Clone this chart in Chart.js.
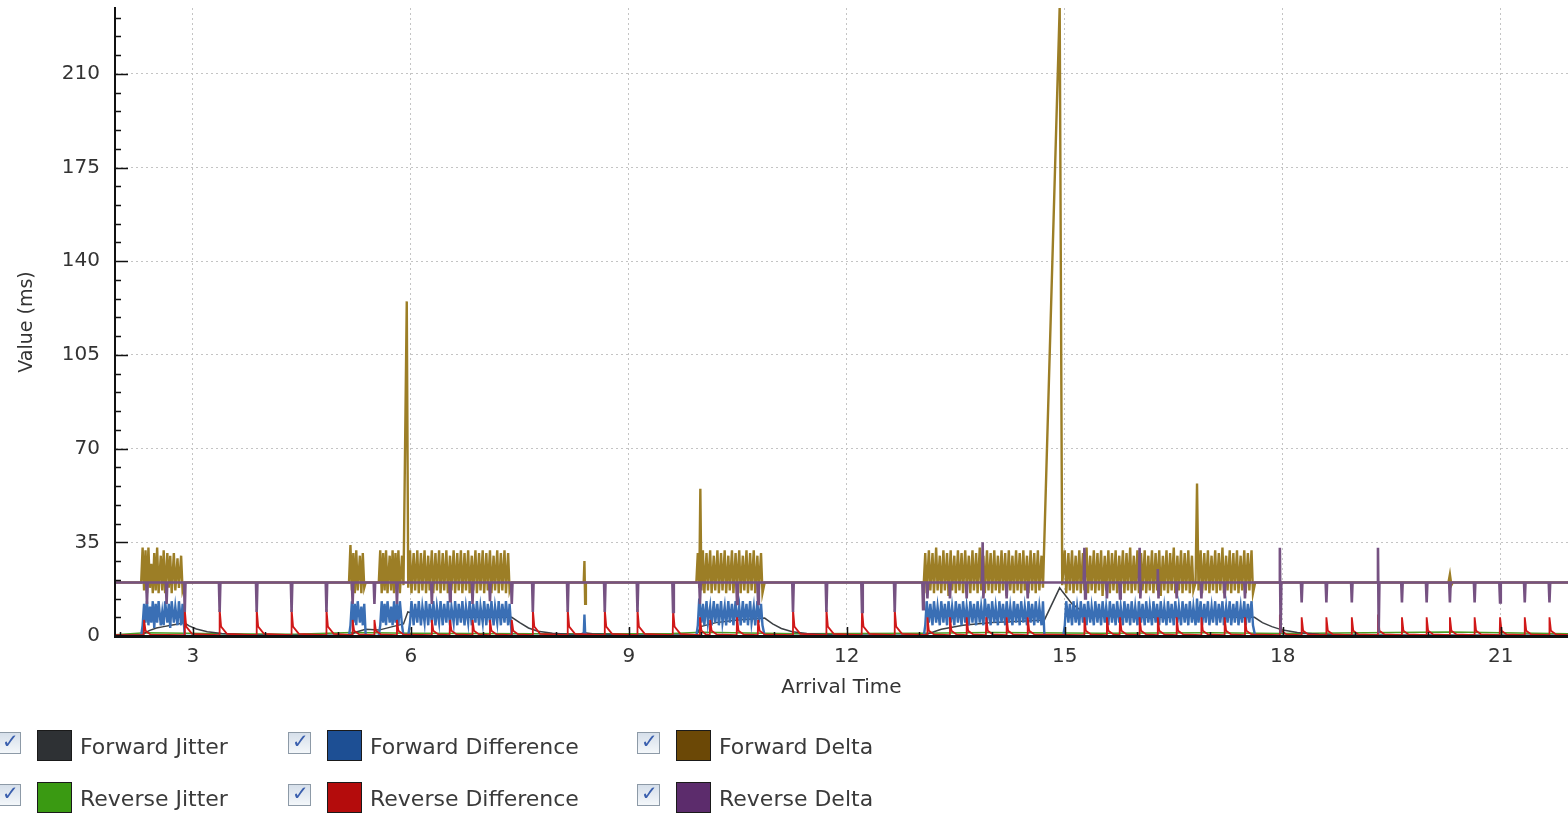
<!DOCTYPE html>
<html>
<head>
<meta charset="utf-8">
<script src="https://cdn.jsdelivr.net/npm/chart.js@4.4.1/dist/chart.umd.min.js"></script>
<style>
  body { margin: 0; background: #fff; overflow: hidden; font-family: "DejaVu Sans", sans-serif; }
  #wrap { position: relative; width: 1568px; height: 814px; }
  canvas { position: absolute; left: 0; top: 0; }
  .cb { position: absolute; width: 23px; height: 22px; border: 1px solid #8d9aa7; box-sizing: border-box;
        background: linear-gradient(#d6dfea, #f4f7fa); }
  .cb::after { content: "\2713"; position: absolute; left: 3px; top: -4px; font-size: 20px; font-weight: bold; color: #3a5fae; }
  .sw { position: absolute; width: 35px; height: 31px; border: 1px solid #1a1a1a; box-sizing: border-box; }
  .lb { position: absolute; font-size: 22px; line-height: 30px; color: #3a3a3a; white-space: nowrap; }
</style>
</head>
<body>
<div id="wrap">
  <canvas id="grafico" width="1568" height="814"></canvas>
  <div id="leyenda"></div>
</div>
<script>
// Series names / colors (legend order)
const seriesNames = ["Forward Jitter", "Forward Difference", "Forward Delta",
                     "Reverse Jitter", "Reverse Difference", "Reverse Delta"];
const swatchColors = ["#2e3134", "#1d4f94", "#6b4806", "#3a9a12", "#b40c0c", "#5c2c6c"];
const lineColors = ["#3c4044", "#3a6fb5", "#9c7e26", "#4a9e24", "#d01818", "#765282"];

// Tick values
const xTicks = [2,3,4,5,6,7,8,9,10,11,12,13,14,15,16,17,18,19,20,21];
const yTicks = [0,7,14,21,28,35,42,49,56,63,70,77,84,91,98,105,112,119,126,133,140,147,154,161,168,175,182,189,196,203,210,217,224,231];

// [arrival time (s), value (ms)]
const fwdDelta = [
  [1.93,20],[2.29,20],[2.31,33],[2.33,17],[2.35,32],[2.37,16],[2.39,33],[2.41,18],[2.43,27],[2.45,16],[2.47,31],[2.49,17],[2.51,33],[2.53,16],[2.56,30],[2.58,17],[2.60,32],[2.62,16],[2.65,31],[2.67,18],[2.69,30],[2.71,16],[2.74,31],[2.76,17],[2.79,29],[2.81,18],[2.84,30],[2.86,17],[2.89,20],
  [5.15,20],[5.17,34],[5.19,17],[5.21,31],[5.23,16],[5.25,32],[5.27,17],[5.30,30],[5.32,16],[5.34,31],[5.36,18],[5.38,20],
  [5.56,20],[5.58,32],[5.60,16],[5.62,31],[5.64,17],[5.66,32],[5.68,16],[5.71,30],[5.73,17],[5.75,32],[5.77,16],[5.79,31],[5.81,17],[5.83,32],[5.85,16],[5.88,30],[5.90,19],[5.945,125],[5.965,18],
  [5.99,32],[6.01,16],[6.04,31],[6.06,17],[6.09,32],[6.11,16],[6.14,31],[6.16,17],[6.19,32],[6.21,16],[6.24,30],[6.26,17],[6.29,32],[6.31,16],[6.34,31],[6.36,17],[6.39,32],[6.41,16],[6.44,31],[6.46,17],[6.49,32],[6.51,16],[6.54,30],[6.56,17],[6.59,32],[6.61,16],[6.64,31],[6.66,17],[6.69,32],[6.71,16],[6.74,31],[6.76,17],[6.79,32],[6.81,16],[6.84,30],[6.86,17],[6.89,32],[6.91,16],[6.94,31],[6.96,17],[6.99,32],[7.01,16],[7.04,31],[7.06,17],[7.09,32],[7.11,16],[7.14,30],[7.16,17],[7.19,32],[7.21,16],[7.24,31],[7.26,17],[7.29,32],[7.31,16],[7.34,31],[7.36,17],[7.39,20],
  [8.38,20],[8.39,28],[8.40,12],[8.41,20],
  [9.93,20],[9.95,31],[9.97,18],[9.985,55],[10.00,17],[10.02,32],[10.04,16],[10.07,31],[10.09,17],[10.12,32],[10.14,16],[10.17,30],[10.19,17],[10.22,32],[10.24,16],[10.27,31],[10.29,17],[10.32,32],[10.34,16],[10.37,30],[10.39,17],[10.42,32],[10.44,16],[10.47,31],[10.49,17],[10.52,32],[10.54,16],[10.57,30],[10.59,17],[10.62,32],[10.64,16],[10.67,31],[10.69,17],[10.72,32],[10.74,16],[10.77,30],[10.79,17],[10.82,31],[10.84,16],[10.87,20],
  [13.06,20],[13.08,31],[13.10,16],[13.13,32],[13.15,17],[13.18,31],[13.20,16],[13.23,33],[13.25,17],[13.28,30],[13.30,16],[13.33,32],[13.35,17],[13.38,31],[13.40,15],[13.43,32],[13.45,17],[13.48,30],[13.50,16],[13.53,32],[13.55,17],[13.58,31],[13.60,16],[13.63,32],[13.65,18],[13.68,30],[13.70,16],[13.73,32],[13.75,17],[13.78,31],[13.80,16],[13.83,33],[13.85,17],[13.88,30],[13.90,16],[13.93,32],[13.95,17],[13.98,31],[14.00,16],[14.03,32],[14.05,17],[14.08,30],[14.10,16],[14.13,32],[14.15,17],[14.18,31],[14.20,15],[14.23,32],[14.25,17],[14.28,30],[14.30,16],[14.33,32],[14.35,17],[14.38,31],[14.40,16],[14.43,32],[14.45,17],[14.48,30],[14.50,16],[14.53,32],[14.55,17],[14.58,31],[14.60,16],[14.63,32],[14.65,17],[14.68,30],[14.70,18],[14.93,235],[14.965,19],
  [15.00,32],[15.02,16],[15.05,31],[15.07,17],[15.10,32],[15.12,16],[15.15,30],[15.17,17],[15.20,32],[15.22,16],[15.25,31],[15.27,17],[15.30,33],[15.32,16],[15.35,30],[15.37,17],[15.40,32],[15.42,16],[15.45,31],[15.47,17],[15.50,32],[15.52,15],[15.55,30],[15.57,17],[15.60,32],[15.62,16],[15.65,31],[15.67,17],[15.70,32],[15.72,16],[15.75,30],[15.77,17],[15.80,32],[15.82,16],[15.85,31],[15.87,17],[15.90,33],[15.92,16],[15.95,30],[15.97,17],[16.00,32],[16.02,16],[16.05,31],[16.07,17],[16.10,32],[16.12,16],[16.15,30],[16.17,17],[16.20,32],[16.22,16],[16.25,31],[16.27,17],[16.30,32],[16.32,15],[16.35,30],[16.37,17],[16.40,32],[16.42,16],[16.45,31],[16.47,17],[16.50,33],[16.52,16],[16.55,30],[16.57,17],[16.60,32],[16.62,16],[16.65,31],[16.67,17],[16.70,32],[16.72,16],[16.75,30],[16.77,17],[16.80,20],[16.82,57],[16.84,17],[16.87,32],[16.89,16],[16.92,31],[16.94,17],[16.97,32],[16.99,16],[17.02,30],[17.04,17],[17.07,32],[17.09,16],[17.12,31],[17.14,17],[17.17,33],[17.19,16],[17.22,30],[17.24,17],[17.27,32],[17.29,16],[17.32,31],[17.34,17],[17.37,32],[17.39,16],[17.42,30],[17.44,17],[17.47,32],[17.49,16],[17.52,31],[17.54,17],[17.57,32],[17.59,16],[17.62,20],
  [20.28,20],[20.30,23],[20.32,19],[20.34,20],[21.95,20]
];

const fwdDiff = [
  [1.93,0],[2.29,0],[2.31,4],[2.33,12],[2.35,5],[2.37,13],[2.39,4],[2.41,11],[2.43,5],[2.45,13],[2.47,3],[2.49,12],[2.51,5],[2.53,13],[2.56,4],[2.58,9],[2.60,4],[2.62,13],[2.65,5],[2.67,12],[2.69,3],[2.71,13],[2.74,5],[2.76,11],[2.79,4],[2.81,13],[2.84,4],[2.86,12],[2.89,0],
  [5.15,0],[5.17,4],[5.19,13],[5.21,5],[5.23,12],[5.25,4],[5.27,13],[5.30,5],[5.32,11],[5.34,4],[5.36,12],[5.38,0],
  [5.56,0],[5.58,4],[5.60,13],[5.62,5],[5.64,12],[5.66,4],[5.68,13],[5.71,5],[5.73,11],[5.75,4],[5.77,13],[5.79,5],[5.81,12],[5.83,4],[5.85,13],[5.88,4],[5.90,0],[5.965,0],
  [5.99,5],[6.01,13],[6.04,4],[6.06,12],[6.09,5],[6.11,13],[6.14,4],[6.16,11],[6.19,5],[6.21,13],[6.24,4],[6.26,12],[6.29,5],[6.31,13],[6.34,4],[6.36,11],[6.39,5],[6.41,13],[6.44,4],[6.46,12],[6.49,5],[6.51,13],[6.54,4],[6.56,11],[6.59,5],[6.61,13],[6.64,4],[6.66,12],[6.69,5],[6.71,13],[6.74,4],[6.76,11],[6.79,5],[6.81,13],[6.84,4],[6.86,12],[6.89,5],[6.91,13],[6.94,4],[6.96,11],[6.99,5],[7.01,13],[7.04,4],[7.06,12],[7.09,5],[7.11,13],[7.14,4],[7.16,11],[7.19,5],[7.21,13],[7.24,4],[7.26,12],[7.29,5],[7.31,13],[7.34,4],[7.36,12],[7.39,0],
  [8.38,0],[8.39,8],[8.40,1],[8.41,0],
  [9.93,0],[9.95,4],[9.97,14],[10.00,5],[10.02,12],[10.04,4],[10.07,13],[10.09,5],[10.12,11],[10.14,4],[10.17,13],[10.19,5],[10.22,12],[10.24,4],[10.27,13],[10.29,5],[10.32,11],[10.34,4],[10.37,13],[10.39,5],[10.42,12],[10.44,4],[10.47,13],[10.49,5],[10.52,11],[10.54,4],[10.57,13],[10.59,5],[10.62,12],[10.64,4],[10.67,13],[10.69,5],[10.72,11],[10.74,4],[10.77,13],[10.79,5],[10.82,12],[10.84,4],[10.87,0],
  [13.06,0],[13.08,4],[13.10,13],[13.13,5],[13.15,12],[13.18,4],[13.20,13],[13.23,5],[13.25,11],[13.28,4],[13.30,13],[13.33,5],[13.35,12],[13.38,4],[13.40,13],[13.43,5],[13.45,11],[13.48,4],[13.50,13],[13.53,5],[13.55,12],[13.58,4],[13.60,13],[13.63,5],[13.65,11],[13.68,4],[13.70,13],[13.73,5],[13.75,12],[13.78,4],[13.80,13],[13.83,5],[13.85,11],[13.88,4],[13.90,14],[13.93,5],[13.95,12],[13.98,4],[14.00,13],[14.03,5],[14.05,11],[14.08,4],[14.10,13],[14.13,5],[14.15,12],[14.18,4],[14.20,13],[14.23,5],[14.25,11],[14.28,4],[14.30,13],[14.33,5],[14.35,12],[14.38,4],[14.40,13],[14.43,5],[14.45,11],[14.48,4],[14.50,13],[14.53,5],[14.55,12],[14.58,4],[14.60,13],[14.63,5],[14.65,11],[14.68,4],[14.70,13],[14.72,0],
  [14.98,0],[15.00,4],[15.02,13],[15.05,5],[15.07,12],[15.10,4],[15.12,13],[15.15,5],[15.17,11],[15.20,4],[15.22,13],[15.25,5],[15.27,12],[15.30,4],[15.32,13],[15.35,5],[15.37,11],[15.40,4],[15.42,13],[15.45,5],[15.47,12],[15.50,4],[15.52,13],[15.55,5],[15.57,11],[15.60,4],[15.62,13],[15.65,5],[15.67,12],[15.70,4],[15.72,13],[15.75,5],[15.77,11],[15.80,4],[15.82,13],[15.85,5],[15.87,12],[15.90,4],[15.92,13],[15.95,5],[15.97,11],[16.00,4],[16.02,13],[16.05,5],[16.07,12],[16.10,4],[16.12,13],[16.15,5],[16.17,11],[16.20,4],[16.22,13],[16.25,5],[16.27,12],[16.30,4],[16.32,13],[16.35,5],[16.37,11],[16.40,4],[16.42,13],[16.45,5],[16.47,12],[16.50,4],[16.52,13],[16.55,5],[16.57,11],[16.60,4],[16.62,13],[16.65,5],[16.67,12],[16.70,4],[16.72,13],[16.75,5],[16.77,11],[16.80,4],[16.82,14],[16.84,5],[16.87,13],[16.89,4],[16.92,12],[16.94,5],[16.97,13],[16.99,4],[17.02,11],[17.04,5],[17.07,13],[17.09,4],[17.12,12],[17.14,5],[17.17,13],[17.19,4],[17.22,11],[17.24,5],[17.27,13],[17.29,4],[17.32,12],[17.34,5],[17.37,13],[17.39,4],[17.42,11],[17.44,5],[17.47,13],[17.49,4],[17.52,12],[17.54,5],[17.57,13],[17.59,4],[17.62,0],[21.95,0]
];

const fwdJitter = [
  [1.93,0.3],[2.30,0.5],[2.40,2],[2.50,3],[2.60,3.5],[2.70,4],[2.80,4.5],[2.88,5],[2.95,3.8],[3.05,2.6],[3.20,1.6],[3.40,0.9],[3.70,0.5],[4.20,0.3],
  [5.15,0.3],[5.25,1.5],[5.38,2.5],[5.56,2.2],[5.75,3.5],[5.90,4.5],[5.96,9],[6.10,8],[6.40,7.5],[6.80,7],[7.10,7],[7.39,7],[7.50,5],[7.62,3],[7.75,1.8],[7.95,1],[8.30,0.5],[8.39,1.2],[8.50,0.8],[9.00,0.4],
  [9.93,0.4],[9.99,3.5],[10.20,5],[10.50,6],[10.87,6.7],[10.98,4.5],[11.10,2.8],[11.25,1.6],[11.45,0.9],[11.80,0.5],[12.40,0.3],
  [13.06,0.3],[13.30,2.5],[13.60,4],[14.00,5],[14.40,5.5],[14.72,6],[14.93,18],[14.97,16.5],[15.10,12],[15.25,9],[15.50,7.5],[16.00,7],[16.50,7],[16.82,9],[17.00,8],[17.30,7],[17.61,7],
  [17.72,5],[17.85,3.5],[18.00,2.2],[18.20,1.3],[18.50,0.7],[19.00,0.4],[21.95,0.3]
];

const revJitter = [
  [1.93,0.5],[2.35,1.2],[2.90,1],[3.40,0.8],[4.40,0.7],[5.20,1.3],[6.00,1],[7.70,0.8],[9.60,0.9],[10.00,1.4],
  [11.30,0.8],[13.00,1],[14.00,1.3],[15.50,1],[17.00,1.2],[18.00,0.9],[20.30,1.5],[21.95,0.8]
];

const revDiff = [
  [1.93,0.3],
  [2.325,0.3],[2.33,6],[2.35,2],[2.42,0.5],
  [2.885,0.3],[2.89,10],[2.91,3.5],[2.99,0.8],
  [3.365,0.3],[3.37,10],[3.39,3.5],[3.47,0.8],
  [3.875,0.3],[3.88,10],[3.90,3.5],[3.98,0.8],
  [4.355,0.3],[4.36,10],[4.38,3.5],[4.46,0.8],
  [4.835,0.3],[4.84,10],[4.86,3.5],[4.94,0.8],
  [5.195,0.3],[5.20,6],[5.22,2],[5.29,0.6],
  [5.495,0.3],[5.50,6],[5.52,2],[5.59,0.6],
  [5.805,0.3],[5.81,6],[5.83,2],[5.90,0.6],
  [6.285,0.3],[6.29,6],[6.31,2],[6.38,0.6],
  [6.535,0.3],[6.54,6],[6.56,2],[6.63,0.6],
  [6.845,0.3],[6.85,6],[6.87,2],[6.94,0.6],
  [7.085,0.3],[7.09,6],[7.11,2],[7.18,0.6],
  [7.385,0.3],[7.39,6],[7.41,2],[7.48,0.6],
  [7.675,0.3],[7.68,10],[7.70,3.5],[7.78,0.8],
  [8.155,0.3],[8.16,10],[8.18,3.5],[8.26,0.8],
  [8.665,0.3],[8.67,10],[8.69,3.5],[8.77,0.8],
  [9.115,0.3],[9.12,10],[9.14,3.5],[9.22,0.8],
  [9.605,0.3],[9.61,10],[9.63,3.5],[9.71,0.8],
  [9.975,0.3],[9.98,7],[10.00,2],[10.06,0.6],
  [10.115,0.3],[10.12,6],[10.14,2],[10.21,0.6],
  [10.485,0.3],[10.49,7],[10.51,2],[10.58,0.6],
  [10.775,0.3],[10.78,6],[10.80,2],[10.87,0.6],
  [11.255,0.3],[11.26,10],[11.28,3.5],[11.36,0.8],
  [11.715,0.3],[11.72,10],[11.74,3.5],[11.82,0.8],
  [12.205,0.3],[12.21,10],[12.23,3.5],[12.31,0.8],
  [12.655,0.3],[12.66,10],[12.68,3.5],[12.76,0.8],
  [13.105,0.3],[13.11,7],[13.13,2],[13.20,0.6],
  [13.415,0.3],[13.42,7],[13.44,2],[13.51,0.6],
  [13.645,0.3],[13.65,7],[13.67,2],[13.74,0.6],
  [13.915,0.3],[13.92,7],[13.94,2],[14.01,0.6],
  [14.195,0.3],[14.20,7],[14.22,2],[14.29,0.6],
  [14.485,0.3],[14.49,7],[14.51,2],[14.58,0.6],
  [15.265,0.3],[15.27,7],[15.29,2],[15.36,0.6],
  [15.575,0.3],[15.58,7],[15.60,2],[15.67,0.6],
  [15.755,0.3],[15.76,7],[15.78,2],[15.85,0.6],
  [16.025,0.3],[16.03,7],[16.05,2],[16.12,0.6],
  [16.275,0.3],[16.28,7],[16.30,2],[16.37,0.6],
  [16.535,0.3],[16.54,7],[16.56,2],[16.63,0.6],
  [16.875,0.3],[16.88,7],[16.90,2],[16.97,0.6],
  [17.195,0.3],[17.20,7],[17.22,2],[17.29,0.6],
  [17.475,0.3],[17.48,7],[17.50,2],[17.57,0.6],
  [17.955,0.3],[17.96,8],[17.98,2],[18.05,0.6],
  [18.255,0.3],[18.26,7],[18.28,2],[18.35,0.6],
  [18.595,0.3],[18.60,7],[18.62,2],[18.69,0.6],
  [18.945,0.3],[18.95,7],[18.97,2],[19.04,0.6],
  [19.305,0.3],[19.31,8],[19.33,2],[19.40,0.6],
  [19.635,0.3],[19.64,7],[19.66,2],[19.73,0.6],
  [19.975,0.3],[19.98,7],[20.00,2],[20.07,0.6],
  [20.295,0.3],[20.30,7],[20.32,2],[20.39,0.6],
  [20.635,0.3],[20.64,7],[20.66,2],[20.73,0.6],
  [20.985,0.3],[20.99,7],[21.01,2],[21.08,0.6],
  [21.325,0.3],[21.33,7],[21.35,2],[21.42,0.6],
  [21.665,0.3],[21.67,7],[21.69,2],[21.76,0.6],
  [21.95,0.3]
];

const revDelta = [
  [1.93,20],
  [2.36,20],[2.37,12],[2.38,20],
  [2.63,20],[2.64,12],[2.65,20],
  [2.88,20],[2.89,9],[2.90,20],
  [3.36,20],[3.37,9],[3.38,20],
  [3.87,20],[3.88,9],[3.89,20],
  [4.35,20],[4.36,9],[4.37,20],
  [4.83,20],[4.84,9],[4.85,20],
  [5.19,20],[5.20,12],[5.21,20],
  [5.49,20],[5.50,12],[5.51,20],
  [5.80,20],[5.81,12],[5.82,20],
  [6.28,20],[6.29,12],[6.30,20],
  [6.53,20],[6.54,13],[6.55,20],
  [6.84,20],[6.85,12],[6.86,20],
  [7.08,20],[7.09,13],[7.10,20],
  [7.38,20],[7.39,12],[7.40,20],
  [7.67,20],[7.68,9],[7.69,20],
  [8.15,20],[8.16,9],[8.17,20],
  [8.66,20],[8.67,9],[8.68,20],
  [9.11,20],[9.12,9],[9.13,20],
  [9.60,20],[9.61,9],[9.62,20],
  [9.97,20],[9.98,12],[9.99,20],
  [10.48,20],[10.49,12],[10.50,20],
  [10.77,20],[10.78,12],[10.79,20],
  [11.25,20],[11.26,9],[11.27,20],
  [11.71,20],[11.72,9],[11.73,20],
  [12.20,20],[12.21,9],[12.22,20],
  [12.65,20],[12.66,9],[12.67,20],
  [13.04,20],[13.05,10],[13.06,20],
  [13.10,20],[13.11,14],[13.12,20],
  [13.41,20],[13.42,14],[13.43,20],
  [13.64,20],[13.65,14],[13.66,20],
  [13.86,20],[13.87,35],[13.88,14],[13.89,20],
  [14.19,20],[14.20,14],[14.21,20],
  [14.48,20],[14.49,14],[14.50,20],
  [15.26,20],[15.27,33],[15.28,14],[15.29,20],
  [15.57,20],[15.58,14],[15.59,20],
  [15.75,20],[15.76,14],[15.77,20],
  [16.02,20],[16.03,33],[16.04,14],[16.05,20],
  [16.27,20],[16.28,25],[16.29,14],[16.30,20],
  [16.53,20],[16.54,14],[16.55,20],
  [16.87,20],[16.88,14],[16.89,20],
  [17.19,20],[17.20,14],[17.21,20],
  [17.47,20],[17.48,14],[17.49,20],
  [17.95,20],[17.96,33],[17.97,1],[17.98,20],
  [18.25,20],[18.26,12.5],[18.27,20],
  [18.59,20],[18.60,12.5],[18.61,20],
  [18.94,20],[18.95,12.5],[18.96,20],
  [19.30,20],[19.31,33],[19.32,1],[19.33,20],
  [19.63,20],[19.64,12.5],[19.65,20],
  [19.97,20],[19.98,12.5],[19.99,20],
  [20.29,20],[20.30,12.5],[20.31,20],
  [20.63,20],[20.64,12.5],[20.65,20],
  [20.98,20],[20.99,12.5],[21.00,20],
  [21.32,20],[21.33,12.5],[21.34,20],
  [21.66,20],[21.67,12.5],[21.68,20],
  [21.95,20]
];

function puntos(serie) {
  return serie.map(p => ({x: p[0], y: p[1]}));
}

// legend
const leyenda = document.getElementById("leyenda");
const colCb = [-2, 288, 637];
const rowTop = [731, 783];
seriesNames.forEach((nombre, i) => {
  const c = i % 3, r = Math.floor(i / 3);
  const cb = document.createElement("div");
  cb.className = "cb";
  cb.style.left = colCb[c] + "px";
  cb.style.top = (rowTop[r] + 1) + "px";
  const sw = document.createElement("div");
  sw.className = "sw";
  sw.style.left = (colCb[c] + 39) + "px";
  sw.style.top = (rowTop[r] - 1) + "px";
  sw.style.background = swatchColors[i];
  const lb = document.createElement("div");
  lb.className = "lb";
  lb.style.left = (colCb[c] + 82) + "px";
  lb.style.top = (rowTop[r] + 1) + "px";
  lb.textContent = nombre;
  leyenda.appendChild(cb);
  leyenda.appendChild(sw);
  leyenda.appendChild(lb);
});

// tick marks drawn inside the plot
const marcas = {
  id: "marcas",
  afterDatasetsDraw(chart) {
    const {ctx, chartArea, scales} = chart;
    ctx.save();
    ctx.strokeStyle = "#111";
    ctx.lineWidth = 1.5;
    ctx.beginPath();
    scales.y.ticks.forEach(t => {
      const py = Math.round(scales.y.getPixelForValue(t.value)) + 0.5;
      const len = t.value % 35 === 0 ? 13 : 6;
      ctx.moveTo(chartArea.left, py);
      ctx.lineTo(chartArea.left + len, py);
    });
    scales.x.ticks.forEach(t => {
      const px = Math.round(scales.x.getPixelForValue(t.value)) + 0.5;
      const len = t.value % 3 === 0 ? 9 : 4;
      ctx.moveTo(px, chartArea.bottom);
      ctx.lineTo(px, chartArea.bottom - len);
    });
    ctx.stroke();
    ctx.restore();
  }
};

const linea = (i, data, ancho, orden) => ({
  label: seriesNames[i],
  data: puntos(data),
  borderColor: lineColors[i],
  backgroundColor: lineColors[i],
  borderWidth: ancho,
  pointRadius: 0,
  tension: 0,
  fill: false,
  order: orden
});

const fuente = {family: "DejaVu Sans", size: 20};

new Chart(document.getElementById("grafico"), {
  type: "line",
  data: {
    datasets: [
      linea(5, revDelta, 2.6, 1),
      linea(4, revDiff, 1.8, 2),
      linea(1, fwdDiff, 2.4, 3),
      linea(0, fwdJitter, 1.5, 4),
      linea(3, revJitter, 1.5, 5),
      linea(2, fwdDelta, 2.4, 6)
    ]
  },
  options: {
    responsive: false,
    animation: false,
    events: [],
    layout: {padding: {top: 8, right: 0, left: 0, bottom: 114}},
    plugins: {legend: {display: false}, tooltip: {enabled: false}},
    scales: {
      x: {
        type: "linear",
        min: 1.93,
        max: 21.925,
        afterFit: s => { s.height = 64; s.paddingLeft = 0; s.paddingRight = 0; },
        afterBuildTicks: s => { s.ticks = xTicks.map(v => ({value: v})); },
        ticks: {
          autoSkip: false,
          maxRotation: 0,
          padding: 9,
          color: "#333",
          font: fuente,
          callback: v => (v % 3 === 0 ? String(v) : "")
        },
        grid: {
          drawTicks: false,
          lineWidth: 1,
          color: c => (c.tick && c.tick.value % 3 === 0 ? "#c4c4c4" : "transparent")
        },
        border: {display: true, color: "#111", width: 3, dash: [2, 3], z: 1},
        title: {display: true, text: "Arrival Time", color: "#333", font: fuente, padding: {top: 0, bottom: 0}}
      },
      y: {
        type: "linear",
        min: 0,
        max: 234.6,
        afterFit: s => { s.width = 115; s.paddingTop = 0; s.paddingBottom = 0; },
        afterBuildTicks: s => { s.ticks = yTicks.map(v => ({value: v})); },
        ticks: {
          autoSkip: false,
          padding: 15,
          color: "#333",
          font: fuente,
          callback: v => (v % 35 === 0 ? String(v) : "")
        },
        grid: {
          drawTicks: false,
          lineWidth: 1,
          color: c => (c.tick && c.tick.value % 35 === 0 && c.tick.value !== 0 ? "#c4c4c4" : "transparent")
        },
        border: {display: true, color: "#111", width: 2, dash: [2, 3], z: 1},
        title: {display: true, text: "Value (ms)", color: "#333", font: {family: "DejaVu Sans", size: 19}, padding: {top: 16, bottom: 0}}
      }
    }
  },
  plugins: [marcas]
});
</script>
</body>
</html>
